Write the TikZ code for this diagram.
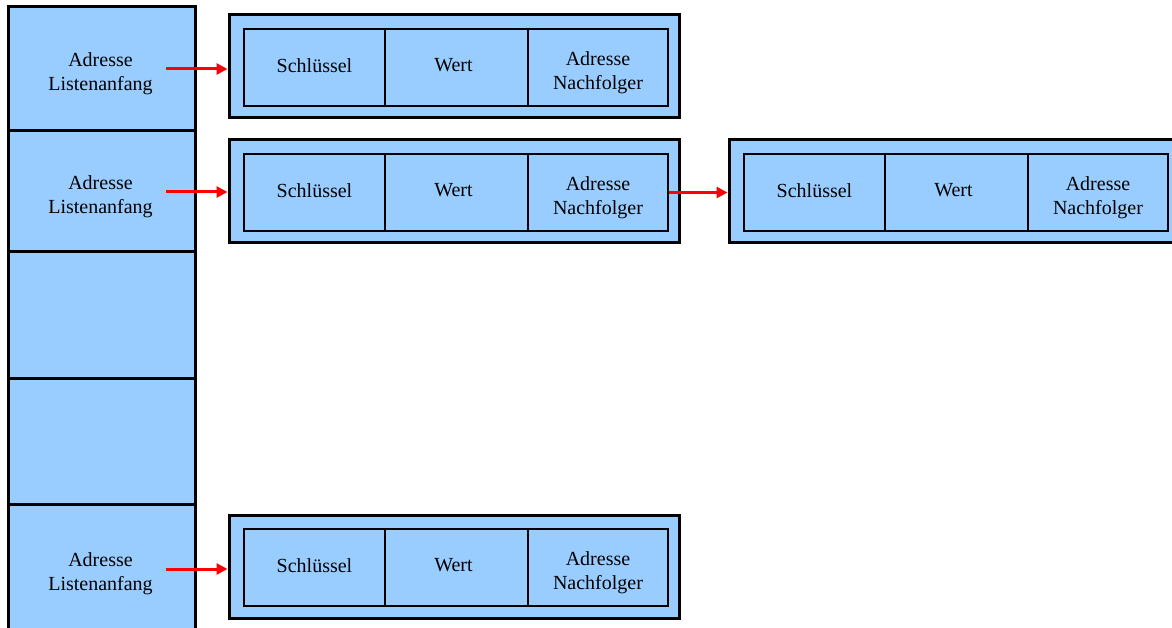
\documentclass[tikz,border=0pt]{standalone}
\usepackage{fontspec}
\setmainfont{Liberation Serif}
\usetikzlibrary{arrows.meta}
\definecolor{boxblue}{HTML}{99CCFF}
\definecolor{arrred}{HTML}{FF0000}
% #1 name, #2 x, #3 y, #4 extra width of the outer box to the right
\newcommand{\eintrag}[4]{%
  \node[outerbox, minimum width={450pt+#4pt}] (#1) at (#2+#4/2,#3) {};
  \node[innerbox, minimum width=141pt] (#1k) at (#2-139.5,#3+1) {};
  \node[innerbox, minimum width=143pt] (#1w) at (#2+2.5,#3+1) {};
  \node[innerbox, minimum width=140pt] (#1a) at (#2+144,#3+1) {};
  \node[txt] (#1kt) at ([yshift=2pt]#1k.center) {Schlüssel};
  \node[txt] (#1wt) at ([xshift=-3pt,yshift=2pt]#1w.center) {Wert};
  \node[txt] (#1at) at ([yshift=-5pt]#1a.center) {Adresse\\Nachfolger};
}
\begin{document}
\begin{tikzpicture}[x=1pt,y=-1pt,
  txt/.style={font=\fontsize{20}{24}\selectfont, align=center, text=black, inner sep=0pt},
  leftcell/.style={draw=black, line width=3pt, fill=boxblue, rectangle, inner sep=0pt, minimum width=187pt},
  outerbox/.style={draw=black, line width=3pt, fill=boxblue, rectangle, inner sep=0pt, minimum height=103pt},
  innerbox/.style={draw=black, line width=1.8pt, fill=boxblue, rectangle, inner sep=0pt, minimum height=77pt},
  redarrow/.style={draw=arrred, line width=3pt, -{Triangle[length=11pt,width=11pt]}}
]
\clip (0,0) rectangle (1172,628);
\fill[white] (0,0) rectangle (1172,628);
% left column
\node[leftcell, minimum height=124pt] (l1) at (101.5,69) {};
\node[leftcell, minimum height=121pt] (l2) at (101.5,191.5) {};
\node[leftcell, minimum height=126pt] (l3) at (101.5,315) {};
\node[leftcell, minimum height=126pt] (l4) at (101.5,441) {};
\node[leftcell, minimum height=130pt] (l5) at (101.5,569) {};
\node[txt] (l1t) at ([xshift=-1pt,yshift=-5pt]l1.center) {Adresse\\Listenanfang};
\node[txt] (l2t) at ([xshift=-1pt,yshift=-5pt]l2.center) {Adresse\\Listenanfang};
\node[txt] (l5t) at ([xshift=-1pt,yshift=-5pt]l5.center) {Adresse\\Listenanfang};
% list entries
\eintrag{b1}{454}{66.5}{0}
\eintrag{b2}{454}{191.5}{0}
\eintrag{b3}{954}{191.5}{12}
\eintrag{b4}{454}{566.5}{0}
% arrows
\coordinate (a1) at (166,69);
\coordinate (a2) at (166,192);
\coordinate (a5) at (166,569);
\draw[redarrow] (a1) -- (a1 -| b1.west);
\draw[redarrow] (a2) -- (a2 -| b2.west);
\draw[redarrow] (a5) -- (a5 -| b4.west);
\draw[redarrow] (b2a.east) -- (b2a.east -| b3.west);
\end{tikzpicture}
\end{document}
